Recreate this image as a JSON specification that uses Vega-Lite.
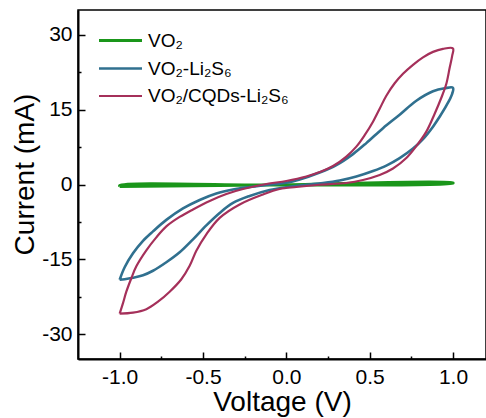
{
  "$schema": "https://vega.github.io/schema/vega-lite/v6.json",
  "width": 408,
  "height": 349,
  "autosize": "none",
  "padding": {"left": 78, "top": 10, "right": 0, "bottom": 59},
  "background": "white",
  "config": {
    "font": "Liberation Sans",
    "view": {"stroke": "black", "strokeWidth": 1.5},
    "axis": {
      "domainColor": "black", "domainWidth": 2,
      "tickColor": "black", "tickWidth": 1.5,
      "labelColor": "black", "titleColor": "black",
      "labelFont": "Liberation Sans", "titleFont": "Liberation Sans",
      "labelFontSize": 21, "titleFontSize": 28, "titleFontWeight": "normal",
      "grid": false
    }
  },
  "data": {"values": [
    {"s":"VO₂","o":1,"v":-1.0,"i":-0.4},{"s":"VO₂","o":2,"v":0.0,"i":-0.05},{"s":"VO₂","o":3,"v":1.0,"i":0.35},
    {"s":"VO₂","o":4,"v":1.0,"i":0.25},{"s":"VO₂","o":5,"v":0.0,"i":-0.12},{"s":"VO₂","o":6,"v":-1.0,"i":-0.2},{"s":"VO₂","o":7,"v":-1.0,"i":-0.4},

    {"s":"VO₂-Li₂S₆","o":1,"v":-1.0,"i":-19.1},{"s":"VO₂-Li₂S₆","o":2,"v":-0.97,"i":-16.6},{"s":"VO₂-Li₂S₆","o":3,"v":-0.92,"i":-13.8},
    {"s":"VO₂-Li₂S₆","o":4,"v":-0.86,"i":-11.3},{"s":"VO₂-Li₂S₆","o":5,"v":-0.8,"i":-9.4},{"s":"VO₂-Li₂S₆","o":6,"v":-0.72,"i":-7.1},
    {"s":"VO₂-Li₂S₆","o":7,"v":-0.62,"i":-4.8},{"s":"VO₂-Li₂S₆","o":8,"v":-0.52,"i":-3.1},{"s":"VO₂-Li₂S₆","o":9,"v":-0.42,"i":-1.8},
    {"s":"VO₂-Li₂S₆","o":10,"v":-0.32,"i":-1.0},{"s":"VO₂-Li₂S₆","o":11,"v":-0.22,"i":-0.5},{"s":"VO₂-Li₂S₆","o":12,"v":-0.12,"i":-0.1},
    {"s":"VO₂-Li₂S₆","o":13,"v":0.0,"i":0.35},{"s":"VO₂-Li₂S₆","o":14,"v":0.08,"i":1.0},{"s":"VO₂-Li₂S₆","o":15,"v":0.2,"i":2.4},
    {"s":"VO₂-Li₂S₆","o":16,"v":0.3,"i":3.9},{"s":"VO₂-Li₂S₆","o":17,"v":0.4,"i":6.1},{"s":"VO₂-Li₂S₆","o":18,"v":0.48,"i":8.3},
    {"s":"VO₂-Li₂S₆","o":19,"v":0.58,"i":11.3},{"s":"VO₂-Li₂S₆","o":20,"v":0.68,"i":14.0},{"s":"VO₂-Li₂S₆","o":21,"v":0.78,"i":16.8},
    {"s":"VO₂-Li₂S₆","o":22,"v":0.88,"i":18.7},{"s":"VO₂-Li₂S₆","o":23,"v":0.95,"i":19.3},{"s":"VO₂-Li₂S₆","o":24,"v":1.0,"i":19.4},
    {"s":"VO₂-Li₂S₆","o":25,"v":0.995,"i":18.2},{"s":"VO₂-Li₂S₆","o":26,"v":0.96,"i":15.8},{"s":"VO₂-Li₂S₆","o":27,"v":0.92,"i":13.6},
    {"s":"VO₂-Li₂S₆","o":28,"v":0.88,"i":11.6},{"s":"VO₂-Li₂S₆","o":29,"v":0.82,"i":9.1},{"s":"VO₂-Li₂S₆","o":30,"v":0.76,"i":7.2},
    {"s":"VO₂-Li₂S₆","o":31,"v":0.68,"i":5.3},{"s":"VO₂-Li₂S₆","o":32,"v":0.6,"i":3.8},{"s":"VO₂-Li₂S₆","o":33,"v":0.52,"i":2.7},
    {"s":"VO₂-Li₂S₆","o":34,"v":0.42,"i":1.6},{"s":"VO₂-Li₂S₆","o":35,"v":0.32,"i":0.8},{"s":"VO₂-Li₂S₆","o":36,"v":0.22,"i":0.3},
    {"s":"VO₂-Li₂S₆","o":37,"v":0.12,"i":-0.05},{"s":"VO₂-Li₂S₆","o":38,"v":0.02,"i":-0.45},{"s":"VO₂-Li₂S₆","o":39,"v":-0.1,"i":-1.1},
    {"s":"VO₂-Li₂S₆","o":40,"v":-0.22,"i":-2.3},{"s":"VO₂-Li₂S₆","o":41,"v":-0.32,"i":-3.7},{"s":"VO₂-Li₂S₆","o":42,"v":-0.4,"i":-5.7},
    {"s":"VO₂-Li₂S₆","o":43,"v":-0.48,"i":-8.2},{"s":"VO₂-Li₂S₆","o":44,"v":-0.56,"i":-11.0},{"s":"VO₂-Li₂S₆","o":45,"v":-0.64,"i":-13.6},
    {"s":"VO₂-Li₂S₆","o":46,"v":-0.72,"i":-15.6},{"s":"VO₂-Li₂S₆","o":47,"v":-0.8,"i":-17.3},{"s":"VO₂-Li₂S₆","o":48,"v":-0.86,"i":-18.2},
    {"s":"VO₂-Li₂S₆","o":49,"v":-0.92,"i":-18.7},{"s":"VO₂-Li₂S₆","o":50,"v":-0.97,"i":-19.0},{"s":"VO₂-Li₂S₆","o":51,"v":-1.0,"i":-19.1},

    {"s":"VO₂/CQDs-Li₂S₆","o":1,"v":-1.0,"i":-25.9},{"s":"VO₂/CQDs-Li₂S₆","o":2,"v":-0.98,"i":-23.8},{"s":"VO₂/CQDs-Li₂S₆","o":3,"v":-0.96,"i":-21.5},
    {"s":"VO₂/CQDs-Li₂S₆","o":4,"v":-0.93,"i":-18.8},{"s":"VO₂/CQDs-Li₂S₆","o":5,"v":-0.9,"i":-16.4},{"s":"VO₂/CQDs-Li₂S₆","o":6,"v":-0.84,"i":-13.2},
    {"s":"VO₂/CQDs-Li₂S₆","o":7,"v":-0.78,"i":-10.6},{"s":"VO₂/CQDs-Li₂S₆","o":8,"v":-0.72,"i":-8.4},{"s":"VO₂/CQDs-Li₂S₆","o":9,"v":-0.64,"i":-6.5},
    {"s":"VO₂/CQDs-Li₂S₆","o":10,"v":-0.56,"i":-5.0},{"s":"VO₂/CQDs-Li₂S₆","o":11,"v":-0.46,"i":-3.3},{"s":"VO₂/CQDs-Li₂S₆","o":12,"v":-0.36,"i":-1.9},
    {"s":"VO₂/CQDs-Li₂S₆","o":13,"v":-0.26,"i":-0.9},{"s":"VO₂/CQDs-Li₂S₆","o":14,"v":-0.12,"i":0.1},{"s":"VO₂/CQDs-Li₂S₆","o":15,"v":0.0,"i":0.7},
    {"s":"VO₂/CQDs-Li₂S₆","o":16,"v":0.12,"i":1.6},{"s":"VO₂/CQDs-Li₂S₆","o":17,"v":0.2,"i":2.5},{"s":"VO₂/CQDs-Li₂S₆","o":18,"v":0.28,"i":3.7},
    {"s":"VO₂/CQDs-Li₂S₆","o":19,"v":0.36,"i":5.6},{"s":"VO₂/CQDs-Li₂S₆","o":20,"v":0.42,"i":7.6},{"s":"VO₂/CQDs-Li₂S₆","o":21,"v":0.47,"i":9.9},
    {"s":"VO₂/CQDs-Li₂S₆","o":22,"v":0.52,"i":12.6},{"s":"VO₂/CQDs-Li₂S₆","o":23,"v":0.56,"i":15.2},{"s":"VO₂/CQDs-Li₂S₆","o":24,"v":0.6,"i":17.8},
    {"s":"VO₂/CQDs-Li₂S₆","o":25,"v":0.65,"i":20.3},{"s":"VO₂/CQDs-Li₂S₆","o":26,"v":0.7,"i":22.2},{"s":"VO₂/CQDs-Li₂S₆","o":27,"v":0.76,"i":24.0},
    {"s":"VO₂/CQDs-Li₂S₆","o":28,"v":0.82,"i":25.5},{"s":"VO₂/CQDs-Li₂S₆","o":29,"v":0.88,"i":26.6},{"s":"VO₂/CQDs-Li₂S₆","o":30,"v":0.94,"i":27.2},
    {"s":"VO₂/CQDs-Li₂S₆","o":31,"v":1.0,"i":27.3},{"s":"VO₂/CQDs-Li₂S₆","o":32,"v":0.995,"i":25.8},{"s":"VO₂/CQDs-Li₂S₆","o":33,"v":0.98,"i":23.4},
    {"s":"VO₂/CQDs-Li₂S₆","o":34,"v":0.96,"i":20.2},{"s":"VO₂/CQDs-Li₂S₆","o":35,"v":0.93,"i":17.4},{"s":"VO₂/CQDs-Li₂S₆","o":36,"v":0.89,"i":14.2},
    {"s":"VO₂/CQDs-Li₂S₆","o":37,"v":0.84,"i":10.6},{"s":"VO₂/CQDs-Li₂S₆","o":38,"v":0.78,"i":7.7},{"s":"VO₂/CQDs-Li₂S₆","o":39,"v":0.72,"i":5.3},
    {"s":"VO₂/CQDs-Li₂S₆","o":40,"v":0.64,"i":3.2},{"s":"VO₂/CQDs-Li₂S₆","o":41,"v":0.56,"i":1.9},{"s":"VO₂/CQDs-Li₂S₆","o":42,"v":0.46,"i":0.9},
    {"s":"VO₂/CQDs-Li₂S₆","o":43,"v":0.36,"i":0.3},{"s":"VO₂/CQDs-Li₂S₆","o":44,"v":0.2,"i":-0.05},{"s":"VO₂/CQDs-Li₂S₆","o":45,"v":0.06,"i":-0.5},
    {"s":"VO₂/CQDs-Li₂S₆","o":46,"v":-0.04,"i":-0.9},{"s":"VO₂/CQDs-Li₂S₆","o":47,"v":-0.14,"i":-2.0},{"s":"VO₂/CQDs-Li₂S₆","o":48,"v":-0.28,"i":-4.0},
    {"s":"VO₂/CQDs-Li₂S₆","o":49,"v":-0.4,"i":-6.7},{"s":"VO₂/CQDs-Li₂S₆","o":50,"v":-0.48,"i":-10.0},{"s":"VO₂/CQDs-Li₂S₆","o":51,"v":-0.54,"i":-13.3},
    {"s":"VO₂/CQDs-Li₂S₆","o":52,"v":-0.58,"i":-16.3},{"s":"VO₂/CQDs-Li₂S₆","o":53,"v":-0.63,"i":-19.0},{"s":"VO₂/CQDs-Li₂S₆","o":54,"v":-0.7,"i":-21.5},
    {"s":"VO₂/CQDs-Li₂S₆","o":55,"v":-0.77,"i":-23.5},{"s":"VO₂/CQDs-Li₂S₆","o":56,"v":-0.84,"i":-25.0},{"s":"VO₂/CQDs-Li₂S₆","o":57,"v":-0.92,"i":-25.7},
    {"s":"VO₂/CQDs-Li₂S₆","o":58,"v":-1.0,"i":-25.9}
  ]},
  "mark": {"type": "line", "interpolate": "catmull-rom", "clip": true},
  "encoding": {
    "x": {
      "field": "v", "type": "quantitative",
      "scale": {"domain": [-1.25, 1.198], "nice": false, "zero": false},
      "axis": {
        "title": "Voltage (V)",
        "values": [-1, -0.75, -0.5, -0.25, 0, 0.25, 0.5, 0.75, 1],
        "labelExpr": "datum.value % 0.5 === 0 ? (datum.value < 0 ? '-' + format(-datum.value, '.1f') : format(datum.value, '.1f')) : ''",
        "tickSize": {"condition": {"test": "datum.value % 0.5 === 0", "value": -7}, "value": -3},
        "labelPadding": 31,
        "labelBaseline": "alphabetic",
        "labelFlush": false,
        "titleBaseline": "alphabetic",
        "titleY": 51
      }
    },
    "y": {
      "field": "i", "type": "quantitative",
      "scale": {"domain": [-35, 35], "nice": false, "zero": false},
      "axis": {
        "title": "Current (mA)",
        "values": [-30, -22.5, -15, -7.5, 0, 7.5, 15, 22.5, 30],
        "labelExpr": "datum.value % 15 === 0 ? (datum.value < 0 ? '-' + format(-datum.value, 'd') : format(datum.value, 'd')) : ''",
        "tickSize": {"condition": {"test": "datum.value % 15 === 0", "value": -7}, "value": -3},
        "labelPadding": 13,
        "labelFlush": false,
        "titleBaseline": "alphabetic",
        "titleX": -45,
        "titleY": 164
      }
    },
    "color": {
      "field": "s", "type": "nominal",
      "scale": {"domain": ["VO₂", "VO₂-Li₂S₆", "VO₂/CQDs-Li₂S₆"], "range": ["#1a961a", "#30708f", "#a5305a"]},
      "legend": {
        "title": null,
        "orient": "none",
        "legendX": 30,
        "legendY": 18,
        "symbolType": "M-2,0L2,0",
        "symbolSize": 462,
        "symbolStrokeWidth": 2.5,
        "labelFontSize": 19,
        "labelFont": "Liberation Sans",
        "labelColor": "black",
        "labelOffset": 15,
        "rowPadding": 5
      }
    },
    "strokeWidth": {
      "field": "s", "type": "nominal",
      "scale": {"domain": ["VO₂", "VO₂-Li₂S₆", "VO₂/CQDs-Li₂S₆"], "range": [3, 2.2, 2.2]},
      "legend": null
    },
    "order": {"field": "o", "type": "quantitative"}
  }
}
